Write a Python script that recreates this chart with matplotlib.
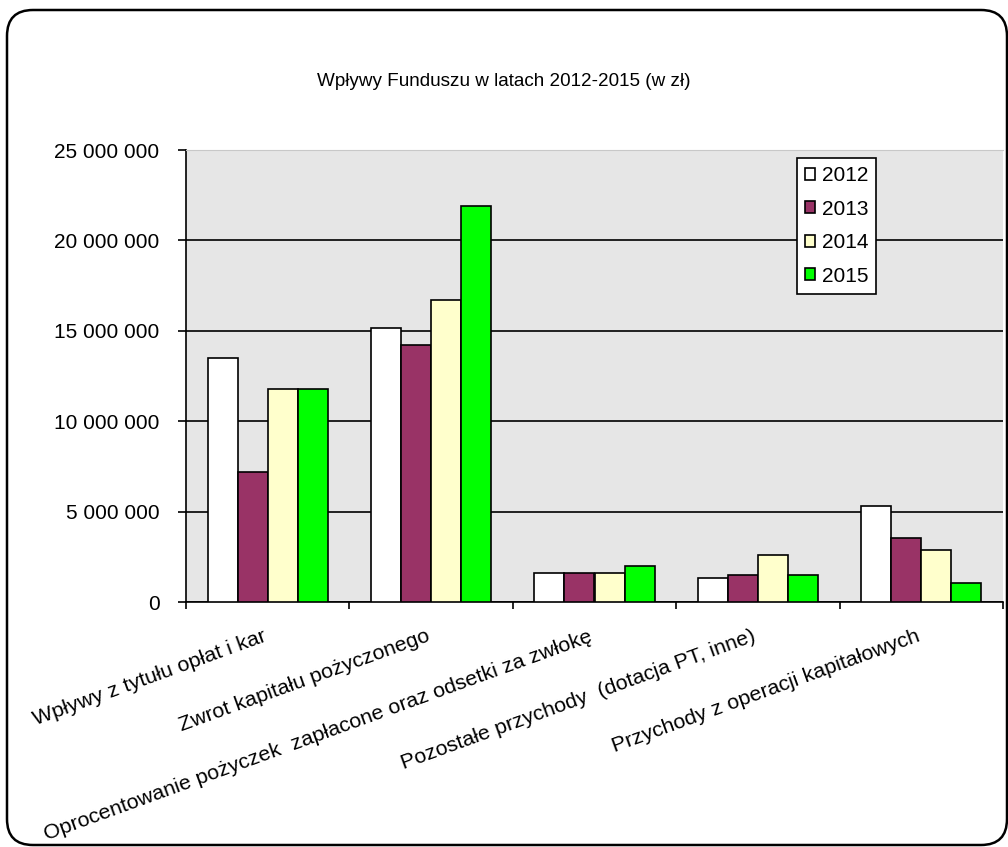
import numpy as np
import matplotlib
matplotlib.use("Agg")
import matplotlib.pyplot as plt
from matplotlib.patches import FancyBboxPatch
from matplotlib.ticker import FuncFormatter, MultipleLocator

plt.rcParams['font.family'] = ['Liberation Sans', 'DejaVu Sans']

# data (zl)
categories = [
    "Wpływy z tytułu opłat i kar",
    "Zwrot kapitału pożyczonego",
    "Oprocentowanie pożyczek  zapłacone oraz odsetki za zwłokę",
    "Pozostałe przychody  (dotacja PT, inne)",
    "Przychody z operacji kapitałowych",
]
years = ["2012", "2013", "2014", "2015"]
v2012 = [13500000, 15150000, 1620000, 1340000, 5300000]
v2013 = [7200000, 14200000, 1620000, 1510000, 3550000]
v2014 = [11800000, 16700000, 1620000, 2600000, 2870000]
v2015 = [11800000, 21900000, 2000000, 1510000, 1050000]
series = [v2012, v2013, v2014, v2015]
colors = ["#FFFFFF", "#993366", "#FFFFCC", "#00FF00"]

W, H = 1008, 847
fig = plt.figure(figsize=(W / 100, H / 100), dpi=100)

# rounded chart border (figure coords, radius ~26 px)
bx0, by0, bx1, by1 = 7, 2, 1007, 837
border = FancyBboxPatch((bx0 / W, by0 / H), (bx1 - bx0) / W, (by1 - by0) / H,
                        boxstyle="round,pad=0,rounding_size=%f" % (26 / W),
                        mutation_aspect=W / H,
                        transform=fig.transFigure, facecolor="none",
                        edgecolor="black", linewidth=1.8, zorder=10)
fig.add_artist(border)

ax = fig.add_axes([186 / W, 1 - 602 / H, (1003 - 186) / W, (602 - 150) / H])
ax.set_facecolor("#E6E6E6")

x = np.arange(len(categories))
group_w = 0.735
bar_w = group_w / len(series)
for i, (vals, col, yr) in enumerate(zip(series, colors, years)):
    ax.bar(x - group_w / 2 + bar_w * (i + 0.5), vals, bar_w, color=col,
           edgecolor="black", linewidth=1.2, label=yr, zorder=3)

ax.set_xlim(-0.5, len(categories) - 0.5)
ax.set_ylim(0, 25000000)
ax.yaxis.set_major_locator(MultipleLocator(5000000))
ax.yaxis.set_major_formatter(FuncFormatter(lambda v, p: f"{int(v):,}".replace(",", " ")))
ax.grid(axis="y", color="black", linewidth=1.2, zorder=1)
ax.set_axisbelow(True)

ax.set_xticks(np.arange(len(categories) + 1) - 0.5)
ax.set_xticklabels([])
ax.set_xticks(x, minor=True)
ax.tick_params(axis="x", which="major", length=5, width=1.2, direction="out")
ax.tick_params(axis="x", which="minor", length=0)
ax.tick_params(axis="y", length=6, width=1.2, labelsize=15, pad=13)

for xi, lab in zip(x, categories):
    ax.text(xi - 0.035, -0.055, lab, transform=ax.get_xaxis_transform(),
            rotation=20, rotation_mode="anchor", ha="right", va="top",
            fontsize=15.4)

ax.spines["right"].set_visible(False)
ax.spines["top"].set_color("#C8C8C8")
ax.spines["left"].set_linewidth(1.2)
ax.spines["bottom"].set_linewidth(1.2)

leg = ax.legend(loc="upper left", bbox_to_anchor=(0.748, 0.982), fontsize=15,
                frameon=True, fancybox=False, edgecolor="black",
                handlelength=0.5, handleheight=0.5, handletextpad=0.3,
                labelspacing=0.7, borderpad=0.38, borderaxespad=0)
leg.get_frame().set_linewidth(1.2)
leg.get_frame().set_facecolor("white")
leg.get_frame().set_alpha(1)
leg.set_zorder(5)

fig.text(0.5, 1 - 82 / H, "Wpływy Funduszu w latach 2012-2015 (w zł)",
         ha="center", va="center", fontsize=13.6)

fig.savefig("out.png", dpi=100)
